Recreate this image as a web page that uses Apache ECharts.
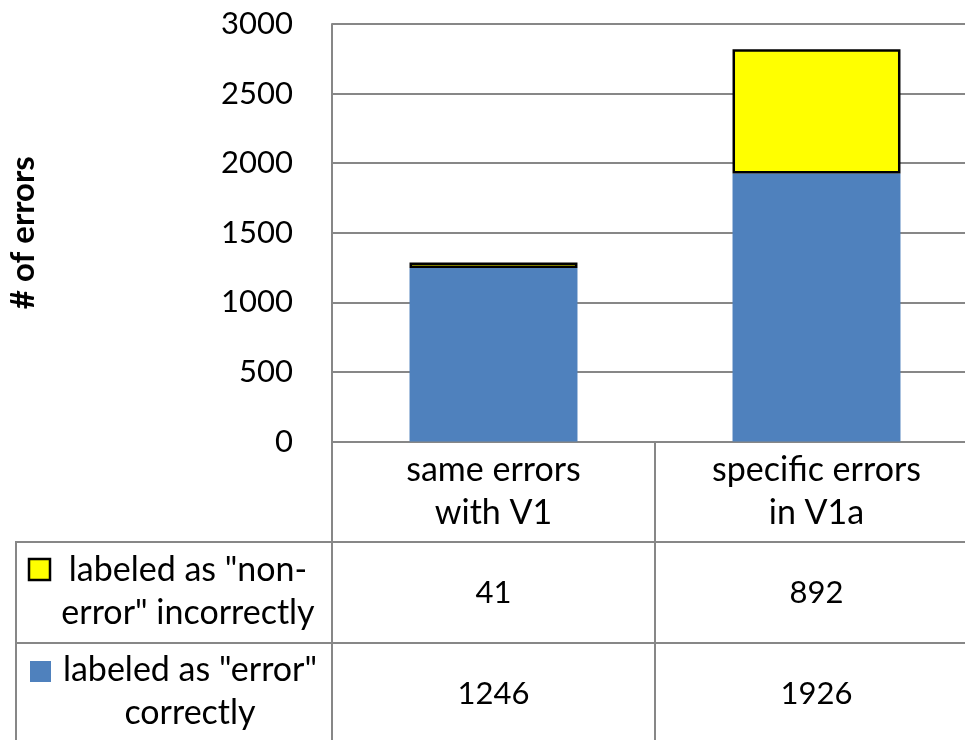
<!DOCTYPE html>
<html>
<head>
<meta charset="utf-8">
<script src="https://cdn.jsdelivr.net/npm/echarts@6/dist/echarts.min.js"></script>
<style>html,body{margin:0;padding:0;background:#fff;}#c{width:965px;height:740px;}</style>
</head>
<body>
<div id="c"></div>
<script>
const categories = ['same errors\nwith V1', 'specific errors\nin V1a'];
const correctVals = [1246, 1926];
const incorrectVals = [41, 892];
const seriesNames = ['labeled as "error" correctly', 'labeled as "non-error" incorrectly'];
const legendLabels = ['labeled as "error"\ncorrectly', 'labeled as "non-\nerror" incorrectly'];
const yTicks = {min: 0, max: 3000, interval: 500};
const yTitle = '# of errors';

const FONT = 'Lato';
const FS_TEXT = 34;
const FS_NUM = 31;
const GRID = '#878787';
const BLUE = '#4F81BD';
const YELLOW = '#FFFF00';

const chart = echarts.init(document.getElementById('c'), null, {renderer: 'canvas'});
const gridLR = {left: 332, right: -13, outerBoundsMode: 'none', containLabel: false};
const hiddenAxis = {show: true, axisLine: {show: false}, axisTick: {show: false}, splitLine: {show: false}};
const txt = {color: '#000', fontSize: FS_TEXT, fontFamily: FONT};
const num = {color: '#000', fontSize: FS_NUM, fontFamily: FONT};
chart.setOption({
  animation: false,
  backgroundColor: '#fff',
  textStyle: {fontFamily: FONT},
  grid: [
    Object.assign({top: 24, bottom: 740 - 441.5}, gridLR),
    Object.assign({top: 542, height: 50.5}, gridLR),
    Object.assign({top: 643, height: 50.5}, gridLR)
  ],
  xAxis: [
    {
      type: 'category', gridIndex: 0, data: categories,
      axisLine: {lineStyle: {color: GRID, width: 2}},
      axisTick: {show: true, length: 300, lineStyle: {color: GRID, width: 2}},
      axisLabel: Object.assign({lineHeight: 43, margin: 50, verticalAlign: 'middle', interval: 0}, txt)
    },
    Object.assign({type: 'category', gridIndex: 1, data: incorrectVals.map(String),
      axisLabel: Object.assign({margin: 0, verticalAlign: 'middle', interval: 0}, num)}, hiddenAxis),
    Object.assign({type: 'category', gridIndex: 2, data: correctVals.map(String),
      axisLabel: Object.assign({margin: 0, verticalAlign: 'middle', interval: 0}, num)}, hiddenAxis)
  ],
  yAxis: [
    {
      type: 'value', gridIndex: 0, min: yTicks.min, max: yTicks.max, interval: yTicks.interval,
      name: yTitle, nameLocation: 'middle', nameRotate: 90, nameGap: 292,
      nameTextStyle: {color: '#000', fontSize: 33, fontWeight: 'bold', fontFamily: FONT},
      axisLine: {show: true, lineStyle: {color: GRID, width: 2}},
      axisTick: {show: false},
      splitLine: {lineStyle: {color: GRID, width: 2}},
      axisLabel: Object.assign({margin: 39, formatter: v => String(v)}, num)
    },
    {type: 'value', gridIndex: 1, show: false},
    {type: 'value', gridIndex: 2, show: false}
  ],
  series: [
    {
      name: seriesNames[0], type: 'bar', stack: 'total', xAxisIndex: 0, yAxisIndex: 0,
      data: correctVals, barWidth: '52%',
      itemStyle: {color: BLUE}
    },
    {
      name: seriesNames[1], type: 'bar', stack: 'total', xAxisIndex: 0, yAxisIndex: 0,
      data: incorrectVals, barWidth: '52%',
      itemStyle: {color: YELLOW, borderColor: '#000', borderWidth: 2.5}
    }
  ],
  graphic: [
    {type: 'line', shape: {x1: 16, y1: 542, x2: 965, y2: 542}, style: {stroke: GRID, lineWidth: 2}},
    {type: 'line', shape: {x1: 16, y1: 643, x2: 965, y2: 643}, style: {stroke: GRID, lineWidth: 2}},
    {type: 'line', shape: {x1: 16, y1: 541, x2: 16, y2: 740}, style: {stroke: GRID, lineWidth: 2}},
    {type: 'rect', shape: {x: 29, y: 559, width: 21, height: 21}, style: {fill: YELLOW, stroke: '#000', lineWidth: 2.5}},
    {type: 'text', style: {x: 188, y: 592, text: legendLabels[1], fill: '#000', font: FS_TEXT + 'px "' + FONT + '"', lineHeight: 43, align: 'center', verticalAlign: 'middle'}},
    {type: 'rect', shape: {x: 30, y: 661, width: 21, height: 21}, style: {fill: BLUE}},
    {type: 'text', style: {x: 190, y: 692, text: legendLabels[0], fill: '#000', font: FS_TEXT + 'px "' + FONT + '"', lineHeight: 43, align: 'center', verticalAlign: 'middle'}}
  ]
});
</script>
</body>
</html>
